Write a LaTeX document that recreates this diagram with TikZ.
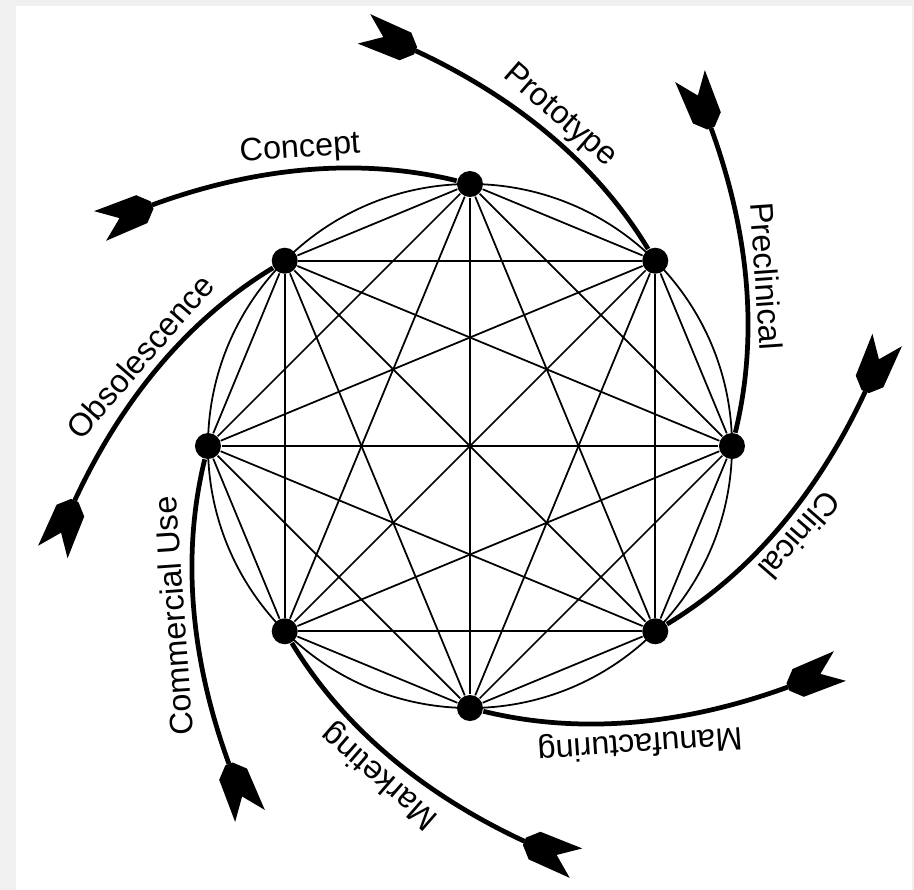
\documentclass[tikz,border=0pt]{standalone}
\usepackage{fontspec}
\setmainfont{Liberation Sans}
\begin{document}
\begin{tikzpicture}[x=0.01cm,y=0.01cm,
  thinline/.style={line width=0.5pt},
  flow/.style={line width=1.35pt},
  dot/.style={circle,fill=black,inner sep=0pt,minimum size=0.26cm},
  lbl/.style={font=\fontsize{9.2}{10}\selectfont,inner sep=0pt},
  tip/.style={fill=black}
]
\useasboundingbox (-470,446) rectangle (444,-444);
\fill[gray!12] (-470,446) rectangle (444,-444);
\fill[white] (-454,440) rectangle (442,-444);
% nodes
\foreach \i in {0,...,7}
  \node[dot] (n\i) at ({90-45*\i}:262) {};
% circle
\draw[thinline] (0,0) circle (262);
% chords
\foreach \i in {0,...,7}
  \foreach \j in {0,...,7}
    {\ifnum\i<\j \draw[thinline] (n\i) -- (n\j);\fi}
% flows and labels
\foreach \k/\lab in {0/Concept,1/Prototype,2/Preclinical,3/Clinical,4/Manufacturing,5/Marketing,6/Commercial Use,7/Obsolescence}{
  \begin{scope}[rotate=-45*\k]
    \draw[flow] (n\k) .. controls (-110,289) and (-214,279) .. (-318,241) coordinate (e\k);
    \fill[tip,shift={(-318,241)},rotate=202] (0,4) -- (11,15) -- (56,16) -- (35,0) -- (56,-16) -- (11,-15) -- (0,-4) -- cycle;
  \end{scope}
  \node[lbl,rotate={4-45*\k}] (L\k) at ({119.8-45*\k}:342) {\lab};
}
\end{tikzpicture}
\end{document}
